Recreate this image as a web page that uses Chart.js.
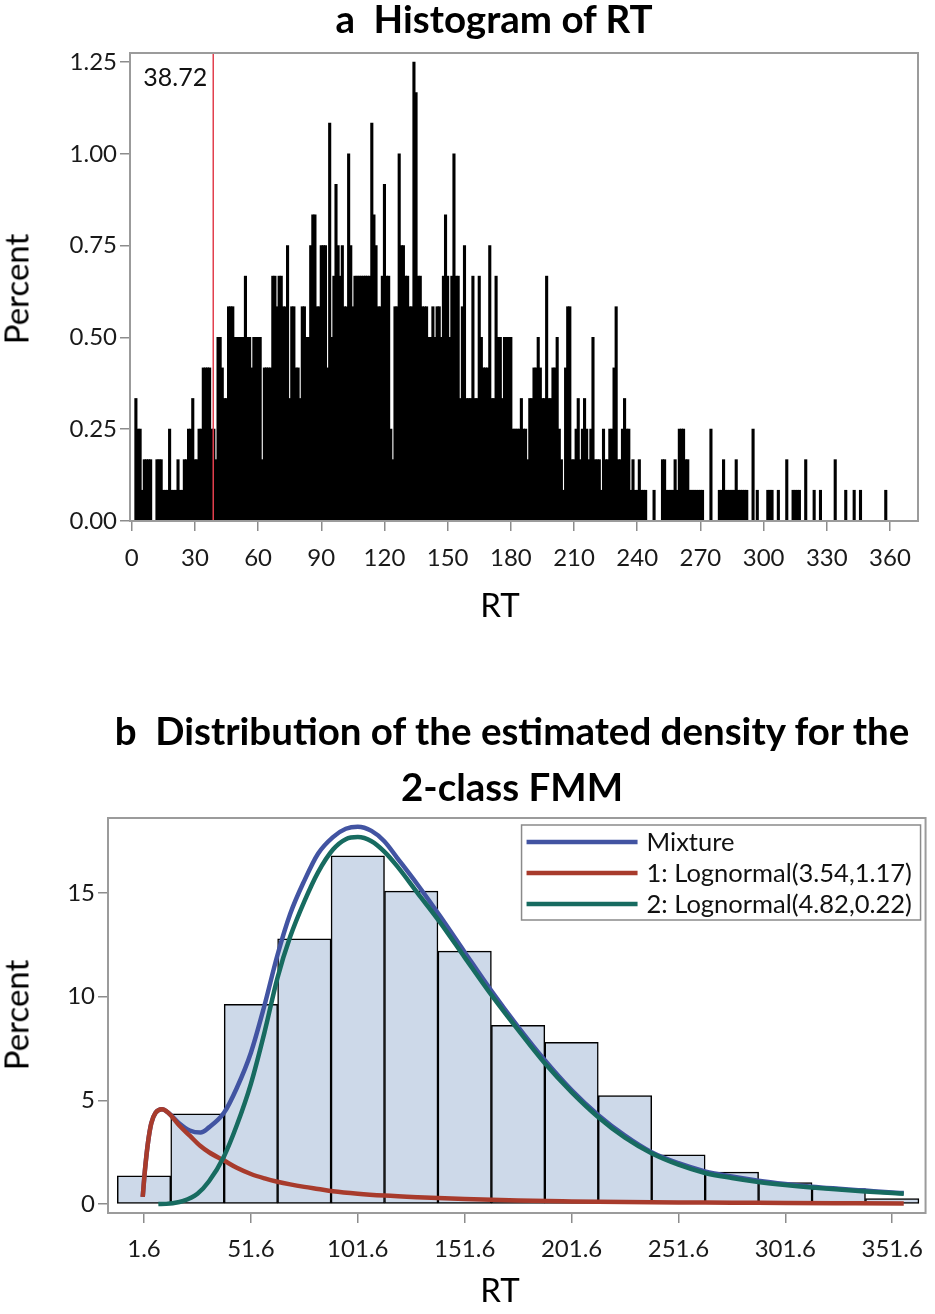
<!DOCTYPE html>
<html>
<head>
<meta charset="utf-8">
<script src="https://cdn.jsdelivr.net/npm/chart.js@4.4.1/dist/chart.umd.min.js"></script>
<style>
  body { margin: 0; background: #fff; width: 935px; height: 1314px; position: relative; overflow: hidden; font-family: Lato, sans-serif; }
  .title { position: absolute; font-weight: bold; font-size: 38.5px; color: #000;
           white-space: pre; transform: translateX(-50%); text-align: center; }
  .axt { position: absolute; font-size: 33px; color: #000; white-space: nowrap; line-height: 1; }
  .axt.h { transform: translate(-50%, -50%); }
  .axt.v { transform: translate(-50%, -50%) rotate(-90deg); }
  #wrapA { position: absolute; left: 0; top: 0; width: 935px; height: 640px; }
  #wrapB { position: absolute; left: 0; top: 800px; width: 935px; height: 514px; }
</style>
</head>
<body>
<div id="wrapA"><canvas id="histA" width="935" height="640"></canvas></div>
<div id="wrapB"><canvas id="histB" width="935" height="514"></canvas></div>
<div class="title" style="left:494px; top:-4px; line-height:44px;">a  Histogram of RT</div>
<div class="title" style="left:512px; top:702px; line-height:56px;">b  Distribution of the estimated density for the
2-class FMM</div>
<div class="axt h" style="left:500px; top:604px;">RT</div>
<div class="axt v" style="left:16px; top:289px;">Percent</div>
<div class="axt h" style="left:500px; top:1289px;">RT</div>
<div class="axt v" style="left:16px; top:1015px;">Percent</div>
<script>
// ---- panel a: counts per 1-unit RT bin (bins centred on 0..359), 1 count = 1/12 %
const rtCounts = [
  0,0,4,3,3,1,2,2,2,2, 0,0,2,2,2,1,1,1,3,1, 1,1,2,1,1,2,2,3,3,4,
  2,2,3,3,5,5,5,5,3,3, 2,6,6,5,4,4,7,7,7,6, 6,6,6,6,8,6,6,5,6,6,
  6,6,2,5,5,5,5,8,8,7, 8,8,7,7,9,4,7,7,5,5, 4,7,7,6,6,9,10,10,7,7,
  9,9,9,5,13,6,8,11,9,8, 9,7,7,12,9,7,8,8,8,8, 8,8,8,8,13,10,9,7,7,8,
  11,8,8,3,2,7,7,12,9,9, 8,8,7,7,15,14,8,8,7,7, 7,6,6,7,6,7,7,6,8,10,
  8,6,8,12,8,8,4,7,9,4, 4,4,8,4,4,8,6,5,5,5, 9,4,4,8,6,6,4,6,6,6,
  6,3,3,3,3,4,3,3,2,4, 4,5,5,6,5,4,4,8,4,4, 5,5,6,3,2,1,5,7,7,2,
  2,3,4,2,3,4,3,2,3,6, 2,2,2,1,3,2,2,3,3,5, 7,2,2,3,4,3,3,1,2,1,
  1,2,1,1,1,0,0,0,1,0, 0,0,2,2,1,1,1,1,2,1, 3,3,3,2,2,1,1,1,1,1,
  1,1,0,0,0,3,0,0,0,1, 1,2,1,1,1,1,1,2,1,1, 1,1,1,0,0,3,0,1,0,0,
  0,0,1,1,1,0,0,1,0,0, 0,2,0,0,1,1,1,1,0,0, 2,0,0,0,1,0,0,1,0,0,
  0,0,0,0,2,0,0,0,0,1, 0,0,0,1,0,0,1,0,0,0, 0,0,0,0,0,0,0,0,1,0
];
const pctPerCount = 100 / 1200;
const cutoff = 38.72;
const histXTicks = [0, 30, 60, 90, 120, 150, 180, 210, 240, 270, 300, 330, 360];
const histYTicks = [0, 0.25, 0.5, 0.75, 1.0, 1.25];

// ---- panel b: 25-unit bins
const binMid = [1.6, 26.6, 51.6, 76.6, 101.6, 126.6, 151.6, 176.6, 201.6, 226.6, 251.6, 276.6, 301.6, 326.6, 351.6];
const binPct = [1.36, 4.35, 9.63, 12.79, 16.8, 15.09, 12.2, 8.62, 7.8, 5.23, 2.38, 1.54, 1.04, 0.75, 0.26];
const fmmXTicks = [1.6, 51.6, 101.6, 151.6, 201.6, 251.6, 301.6, 351.6];
const fmmYTicks = [0, 5, 10, 15];

const mixRT  = [1, 2, 3.5, 5, 7, 10, 13, 18, 23, 28, 32, 39, 45, 51.6, 58, 64, 70, 76.6, 83, 90, 96, 101.6, 108, 114, 120,
                129.6, 140, 151.6, 164, 176.6, 189, 201.6, 214, 226.6, 239, 251.6, 264, 276.6, 289, 301.6, 314, 326.6, 339, 351.6, 357];
const mixPct = [0.35, 1.6, 3.0, 3.9, 4.4, 4.57, 4.4, 3.9, 3.55, 3.45, 3.7, 4.4, 5.6, 7.3, 9.6, 12.0, 14.0, 15.6, 16.9, 17.7, 18.1, 18.2, 18.0, 17.5, 16.7,
                15.4, 13.9, 12.15, 10.3, 8.55, 6.95, 5.5, 4.3, 3.3, 2.5, 1.97, 1.58, 1.33, 1.13, 0.97, 0.84, 0.74, 0.65, 0.56, 0.53];
const ln1RT  = [1, 2, 3.5, 5, 7, 10, 13, 18, 23, 28, 32, 39, 45, 51.6, 58, 64, 70, 76.6, 83, 90, 101.6, 114, 129.6,
                151.6, 176.6, 201.6, 226.6, 251.6, 276.6, 301.6, 326.6, 357];
const ln1Pct = [0.35, 1.6, 3.0, 3.9, 4.4, 4.57, 4.4, 3.8, 3.3, 2.8, 2.5, 2.1, 1.75, 1.45, 1.24, 1.08, 0.95, 0.83, 0.73, 0.62, 0.5, 0.41, 0.33,
                0.24, 0.17, 0.13, 0.1, 0.08, 0.07, 0.05, 0.04, 0.03];
const ln2RT  = [8.3, 12, 15, 20, 26.6, 32, 39, 45, 51.6, 58, 64, 70, 76.6, 83, 90, 96, 101.6, 108, 114, 120, 129.6, 140,
                151.6, 164, 176.6, 189, 201.6, 214, 226.6, 239, 251.6, 264, 276.6, 289, 301.6, 314, 326.6, 339, 351.6, 357];
const ln2Pct = [0, 0.01, 0.04, 0.15, 0.5, 1.1, 2.3, 3.8, 5.8, 8.3, 10.9, 12.9, 14.6, 16.0, 17.1, 17.6, 17.7, 17.5, 17.0, 16.3, 15.0, 13.6,
                11.9, 10.1, 8.4, 6.8, 5.4, 4.2, 3.2, 2.45, 1.9, 1.5, 1.26, 1.07, 0.92, 0.8, 0.7, 0.61, 0.53, 0.5];

Chart.defaults.font.family = 'Lato, sans-serif';
Chart.defaults.color = '#1a1a1a';

const toXY = (xs, ys) => xs.map((x, i) => ({ x: x, y: ys[i] }));

const framePlugin = {
  id: 'frame',
  afterDraw(chart) {
    const { ctx, chartArea: a } = chart;
    ctx.save();
    ctx.strokeStyle = '#9b9b9b';
    ctx.lineWidth = 2;
    ctx.strokeRect(a.left, a.top, a.right - a.left, a.bottom - a.top);
    ctx.restore();
  }
};

const cutoffLabel = {
  id: 'cutoffLabel',
  afterDatasetsDraw(chart) {
    const { ctx } = chart;
    const x = chart.scales.x.getPixelForValue(cutoff);
    ctx.save();
    ctx.font = '25px Lato, sans-serif';
    ctx.fillStyle = '#111';
    ctx.textAlign = 'right';
    ctx.textBaseline = 'middle';
    ctx.fillText(cutoff.toFixed(2), x - 6, chart.chartArea.top + 25);
    ctx.restore();
  }
};

const boxLegend = {
  id: 'boxLegend',
  afterDraw(chart) {
    const { ctx, chartArea: a } = chart;
    const items = chart.data.datasets.filter(d => d.type === 'line');
    const w = 399, h = 95;
    const left = a.right - 5 - w, top = a.top + 7;
    ctx.save();
    ctx.fillStyle = '#fff';
    ctx.fillRect(left, top, w, h);
    ctx.strokeStyle = '#8a8a8a';
    ctx.lineWidth = 1.5;
    ctx.strokeRect(left, top, w, h);
    ctx.font = '25.5px Lato, sans-serif';
    ctx.textBaseline = 'middle';
    ctx.textAlign = 'left';
    items.forEach((d, i) => {
      const y = top + 17 + i * 31;
      ctx.strokeStyle = d.borderColor;
      ctx.lineWidth = 4.5;
      ctx.beginPath();
      ctx.moveTo(left + 5, y);
      ctx.lineTo(left + 116, y);
      ctx.stroke();
      ctx.fillStyle = '#111';
      ctx.fillText(d.label, left + 125, y + 1);
    });
    ctx.restore();
  }
};

// ---------- panel a
new Chart(document.getElementById('histA'), {
  type: 'bar',
  data: {
    datasets: [
      {
        type: 'line',
        label: 'cutoff',
        data: [{ x: cutoff, y: 0 }, { x: cutoff, y: 1.275 }],
        borderColor: '#e2404e',
        borderWidth: 1.5,
        pointRadius: 0,
        order: 0
      },
      {
        label: 'RT',
        data: rtCounts.map((c, i) => ({ x: i, y: c * pctPerCount })),
        backgroundColor: '#000',
        borderWidth: 0,
        barPercentage: 1,
        categoryPercentage: 1,
        inflateAmount: 0.5,
        order: 1
      }
    ]
  },
  options: {
    responsive: false,
    animation: false,
    devicePixelRatio: 1,
    layout: { padding: { top: 53, right: 17, left: 0, bottom: 0 } },
    plugins: { legend: { display: false }, tooltip: { enabled: false } },
    scales: {
      x: {
        type: 'linear',
        min: -0.8,
        max: 373.3,
        offset: false,
        afterBuildTicks: s => { s.ticks = histXTicks.map(v => ({ value: v })); },
        afterFit: s => { s.height = 119; },
        grid: { offset: false, drawOnChartArea: false, drawTicks: true, tickLength: 10, color: '#8c8c8c', lineWidth: 1.5 },
        border: { display: false },
        ticks: { font: { size: 24 }, padding: 13, maxRotation: 0, autoSkip: false }
      },
      y: {
        min: 0,
        max: 1.275,
        afterBuildTicks: s => { s.ticks = histYTicks.map(v => ({ value: v })); },
        afterFit: s => { s.width = 130; },
        grid: { drawOnChartArea: false, drawTicks: true, tickLength: 10, color: '#8c8c8c', lineWidth: 1.5 },
        border: { display: false },
        ticks: { font: { size: 24 }, padding: 3, callback: v => v.toFixed(2) }
      }
    }
  },
  plugins: [framePlugin, cutoffLabel]
});

// ---------- panel b
new Chart(document.getElementById('histB'), {
  type: 'bar',
  data: {
    datasets: [
      {
        type: 'line', label: 'Mixture', data: toXY(mixRT, mixPct),
        borderColor: '#4254a2', borderWidth: 4.5, pointRadius: 0, cubicInterpolationMode: 'monotone', order: 2
      },
      {
        type: 'line', label: '1: Lognormal(3.54,1.17)', data: toXY(ln1RT, ln1Pct),
        borderColor: '#a83b2c', borderWidth: 4.5, pointRadius: 0, cubicInterpolationMode: 'monotone', order: 1
      },
      {
        type: 'line', label: '2: Lognormal(4.82,0.22)', data: toXY(ln2RT, ln2Pct),
        borderColor: '#176b60', borderWidth: 4.5, pointRadius: 0, cubicInterpolationMode: 'monotone', order: 0
      },
      {
        label: 'RT', data: toXY(binMid, binPct),
        backgroundColor: '#cdd9e9', borderColor: '#000', borderWidth: 1.5, borderSkipped: false,
        barPercentage: 1, categoryPercentage: 1, order: 3
      }
    ]
  },
  options: {
    responsive: false,
    animation: false,
    devicePixelRatio: 1,
    layout: { padding: { top: 18, right: 3, left: 0, bottom: 0 } },
    plugins: { legend: { display: false }, tooltip: { enabled: false } },
    scales: {
      x: {
        type: 'linear',
        min: -15.25,
        max: 367.2,
        offset: false,
        afterBuildTicks: s => { s.ticks = fmmXTicks.map(v => ({ value: v })); },
        afterFit: s => { s.height = 101; },
        grid: { offset: false, drawOnChartArea: false, drawTicks: true, tickLength: 10, color: '#8c8c8c', lineWidth: 1.5 },
        border: { display: false },
        ticks: { font: { size: 24 }, padding: 12, maxRotation: 0, autoSkip: false, callback: v => v.toFixed(1) }
      },
      y: {
        min: -0.43,
        max: 18.62,
        afterBuildTicks: s => { s.ticks = fmmYTicks.map(v => ({ value: v })); },
        afterFit: s => { s.width = 108; },
        grid: { drawOnChartArea: false, drawTicks: true, tickLength: 10, color: '#8c8c8c', lineWidth: 1.5 },
        border: { display: false },
        ticks: { font: { size: 24 }, padding: 3 }
      }
    }
  },
  plugins: [framePlugin, boxLegend]
});
</script>
</body>
</html>
